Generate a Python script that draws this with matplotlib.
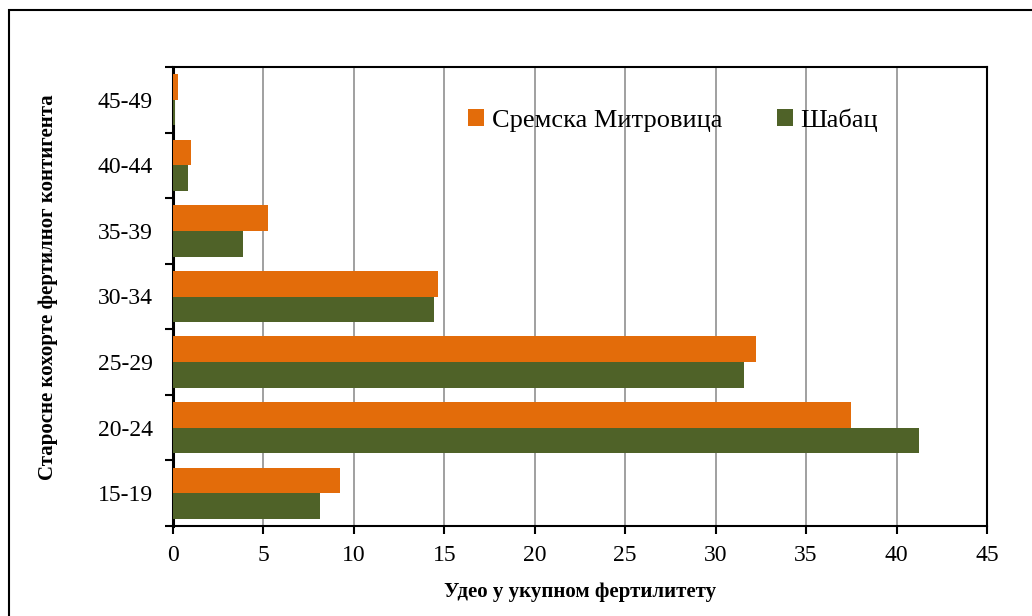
import matplotlib
matplotlib.use("Agg")
import matplotlib.pyplot as plt
import matplotlib.patches as mpatches
import numpy as np

categories = ["15-19", "20-24", "25-29", "30-34", "35-39", "40-44", "45-49"]
sremska = [9.25, 37.5, 32.25, 14.65, 5.25, 1.0, 0.25]
sabac = [8.15, 41.25, 31.55, 14.45, 3.85, 0.85, 0.1]
series_names = ["Сремска Митровица", "Шабац"]
xticks = [0, 5, 10, 15, 20, 25, 30, 35, 40, 45]

ORANGE = "#E36C0A"
GREEN = "#4F6228"

plt.rcParams['font.family'] = ['Liberation Serif', 'DejaVu Serif']

fig = plt.figure(figsize=(10.32, 6.16), dpi=100)
ax = fig.add_axes([173/1032, 1-526/616, (987-173)/1032, (526-67)/616])

y = np.arange(len(categories))
h = 0.39
ax.barh(y + h/2, sremska, height=h, color=ORANGE, label=series_names[0], zorder=3)
ax.barh(y - h/2, sabac, height=h, color=GREEN, label=series_names[1], zorder=3)

ax.set_xlim(0, 45)
ax.set_ylim(-0.5, len(categories) - 0.5)
ax.set_xticks(xticks)
ax.set_xticklabels([str(t) for t in xticks], fontsize=17)
ax.set_yticks(np.arange(-0.5, len(categories), 1.0))
ax.set_yticklabels([])
ax.set_yticks(y, minor=True)
ax.set_yticklabels(categories, minor=True, fontsize=17)
ax.tick_params(axis='y', which='major', direction='out', length=6, width=1.5)
ax.tick_params(axis='y', which='minor', length=0, pad=14.5)
ax.tick_params(axis='x', which='major', direction='out', length=6, width=1.5, pad=8)

ax.grid(axis='x', color='#999999', linewidth=1.3, zorder=0)
for s in ax.spines.values():
    s.set_linewidth(1.5)
    s.set_color('black')
ax.spines['left'].set_linewidth(2.2)

ax.set_xlabel("Удео у укупном фертилитету", fontsize=15, fontweight='bold', labelpad=11)
ax.set_ylabel("Старосне кохорте фертилног контигента", fontsize=15, fontweight='bold')
ax.yaxis.set_label_coords(-0.141, 0.52)

leg = ax.legend(loc='upper left', bbox_to_anchor=(0.35, 0.933), ncol=2, frameon=False,
                fontsize=19, handlelength=0.6, handleheight=0.6, handletextpad=0.3,
                columnspacing=2.05, borderaxespad=0)

rect = mpatches.Rectangle((9/1032, -0.05), 1.1, 1 - 10/616 + 0.05, transform=fig.transFigure,
                          fill=False, edgecolor='black', linewidth=1.5, clip_on=False)
fig.patches.append(rect)

fig.savefig("out.png", dpi=100)
